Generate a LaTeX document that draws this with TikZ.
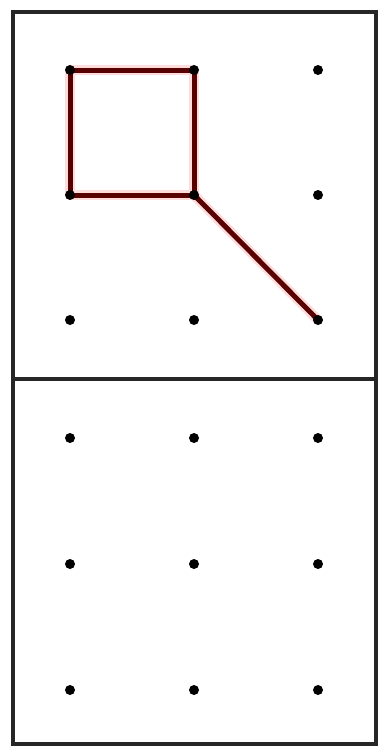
\documentclass[tikz,border=0pt]{standalone}
\begin{document}
\begin{tikzpicture}[x=1pt,y=-1pt,
  frame/.style={draw=black!85,line width=3.2pt},
  redline/.style={draw=red!35!black,line width=5pt,line cap=round,line join=round},
  halo/.style={draw=red!30,line width=10pt,line cap=round,line join=round,opacity=0.45},
  pin/.style={circle,fill=black,inner sep=0pt,minimum size=10pt}]
\useasboundingbox (0,0) rectangle (383,747);
\fill[white] (0,0) rectangle (383,747);
\draw[frame] (13,12) rectangle (376,744);
\coordinate (ml) at (13,379);
\coordinate (mr) at (376,379);
\draw[frame] (ml) -- (mr);
\foreach \i/\x in {1/70,2/194,3/318}{
  \foreach \j/\y in {1/70,2/195,3/320,4/438,5/564,6/690}{
    \coordinate (p\i\j) at (\x,\y);
  }
}
\draw[halo] (p11) -- (p21) -- (p22) -- (p12) -- cycle;
\draw[halo] (p22) -- (p33);
\draw[redline] (p11) -- (p21) -- (p22) -- (p12) -- cycle;
\draw[redline] (p22) -- (p33);
\foreach \i in {1,2,3}{
  \foreach \j in {1,2,3,4,5,6}{
    \node[pin] (d\i\j) at (p\i\j) {};
  }
}
\end{tikzpicture}
\end{document}
